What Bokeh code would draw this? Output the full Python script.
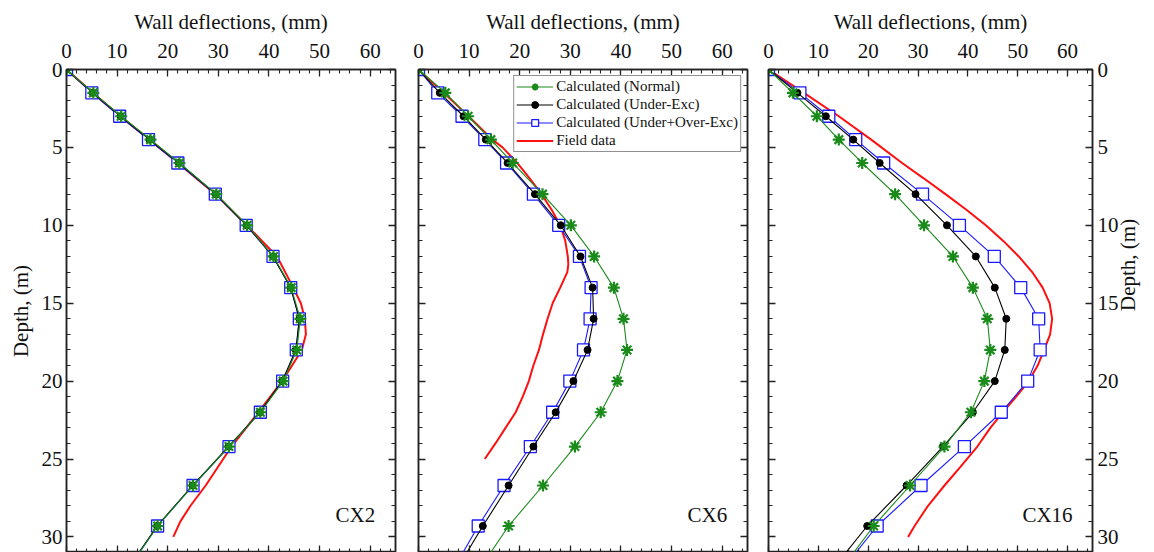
import math

from bokeh.plotting import figure
from bokeh.layouts import row
from bokeh.models import (Range1d, LinearAxis, FixedTicker, Label, Legend, LegendItem)
from bokeh.embed import file_html
from bokeh.resources import INLINE

# Depths (m) of the calculated profile nodes
depth = [0, 1.5, 3, 4.5, 6, 8, 10, 12, 14, 16, 18, 20, 22, 24.2, 26.7, 29.3, 31.9]

# CX2 wall deflections (mm)
cx2_normal = [0, 5.3, 10.8, 16.6, 22.3, 29.6, 35.7, 40.9, 44.4, 46.2, 45.5, 42.8, 38.3, 32.1, 25.0, 18.0, 12.5]
cx2_under = [0, 5.2, 10.7, 16.4, 22.2, 29.5, 35.6, 40.8, 44.3, 46.0, 45.3, 42.6, 38.2, 32.0, 24.9, 17.9, 12.4]
cx2_under_over = [0, 5.0, 10.5, 16.2, 22.0, 29.4, 35.5, 40.8, 44.3, 46.0, 45.4, 42.7, 38.3, 32.1, 25.0, 18.0, 12.5]
cx2_field_depth = [0, 1.5, 3, 4.5, 6, 8, 10, 12, 14, 15, 16, 17, 18, 20, 22, 24.2, 26.7, 28, 29, 30]
cx2_field = [0, 5.2, 10.6, 16.4, 22.0, 29.4, 35.6, 41.6, 44.8, 46.3, 47.1, 47.3, 46.5, 42.6, 37.9, 32.6, 27.5, 24.5, 22.5, 21.1]

# CX6 wall deflections (mm)
cx6_normal = [0, 5.3, 9.8, 14.3, 18.6, 24.5, 30.1, 34.7, 38.6, 40.5, 41.2, 39.3, 36.0, 30.9, 24.6, 17.8, 12.4]
cx6_under = [0, 4.2, 8.9, 13.3, 17.6, 23.0, 28.1, 32.0, 34.4, 34.6, 33.4, 30.6, 27.1, 22.7, 17.8, 12.7, 7.9]
cx6_under_over = [0, 3.8, 8.6, 13.1, 17.4, 22.7, 27.7, 31.8, 34.1, 33.9, 32.6, 29.9, 26.5, 22.1, 16.9, 11.8, 7.2]
cx6_field_depth = [0, 1.5, 3, 4.5, 5, 6, 7, 8, 9, 10, 11, 12, 12.5, 13, 14, 15, 16, 17, 18, 19, 20, 21, 22, 23, 24, 25]
cx6_field = [0, 5.0, 9.9, 14.6, 16.6, 19.5, 22.0, 24.3, 26.3, 28.0, 29.0, 29.5, 29.6, 29.4, 28.0, 26.5, 25.5, 24.6, 23.8, 22.7, 21.8, 20.6, 19.2, 17.2, 15.2, 13.1]

# CX16 wall deflections (mm)
cx16_normal = [0, 4.9, 9.7, 14.1, 18.8, 25.4, 31.2, 37.0, 41.0, 43.9, 44.5, 43.3, 40.6, 35.3, 28.4, 21.1, 15.0]
cx16_under = [0, 5.8, 11.5, 17.0, 22.3, 29.5, 35.8, 41.6, 45.4, 47.7, 47.4, 45.4, 41.0, 35.0, 27.7, 19.8, 13.3]
cx16_under_over = [0, 6.3, 12.1, 17.5, 23.1, 30.9, 38.3, 45.3, 50.6, 54.2, 54.5, 52.0, 46.7, 39.3, 30.6, 21.8, 15.3]
cx16_field_depth = [0, 1.5, 3, 4.5, 6, 7, 8, 9, 10, 11, 12, 13, 14, 15, 16, 17, 18, 19, 20, 21, 22, 23, 24.2, 25.5, 26.7, 28, 29.3, 30]
cx16_field = [0, 7.1, 14.1, 20.6, 26.8, 31.2, 35.5, 39.7, 43.6, 47.1, 50.2, 52.9, 55.0, 56.4, 56.9, 56.5, 55.3, 54.0, 52.2, 49.7, 47.0, 44.5, 41.9, 38.5, 35.3, 32.0, 29.3, 28.0]

x_major = [0, 10, 20, 30, 40, 50, 60]
x_minor = list(range(0, 65, 2))
y_major = [0, 5, 10, 15, 20, 25, 30]
y_minor = list(range(0, 32))

FONT = "Liberation Serif"
GREEN = "#1a8a1a"
BLUE = "#1a1aff"
RED = "#ff1010"
AXIS_COLOR = "#222222"


def style_axis(ax, ticks, minor, show_labels, standoff=6):
    ax.ticker = FixedTicker(ticks=ticks, minor_ticks=minor)
    ax.axis_line_color = AXIS_COLOR
    ax.axis_line_width = 1.5
    ax.major_tick_in = 7
    ax.major_tick_out = 0
    ax.minor_tick_in = 4
    ax.minor_tick_out = 0
    ax.major_tick_line_color = AXIS_COLOR
    ax.minor_tick_line_color = AXIS_COLOR
    ax.major_tick_line_width = 1.3
    ax.minor_tick_line_width = 1.1
    ax.major_label_text_font = FONT
    ax.axis_label_text_font = FONT
    ax.axis_label_text_font_style = "normal"
    ax.axis_label_text_font_size = "21px"
    ax.axis_label_text_color = "#111111"
    if show_labels:
        ax.major_label_text_font_size = "21px"
        ax.major_label_text_color = "#111111"
        ax.major_label_standoff = standoff
    else:
        # tick marks only: labels are not painted
        ax.major_label_text_font_size = "1px"
        ax.major_label_text_color = None
        ax.major_label_standoff = 0


def make_panel(width, bl, br, left_labels, right_labels, name,
               normal, under, under_over, fdepth, field):
    p = figure(width=width, height=552, output_backend="svg", toolbar_location=None,
               x_range=Range1d(0, 65), y_range=Range1d(31.0, 0),
               x_axis_location=None, y_axis_location=None,
               min_border_left=bl, min_border_right=br,
               min_border_top=69, min_border_bottom=0)
    p.background_fill_color = "white"
    p.border_fill_color = "white"
    p.outline_line_color = AXIS_COLOR
    p.outline_line_width = 1.5
    p.xgrid.visible = False
    p.ygrid.visible = False

    top = LinearAxis(axis_label="Wall deflections, (mm)", axis_label_standoff=7)
    style_axis(top, x_major, x_minor, True, standoff=12)
    p.add_layout(top, "above")

    bottom = LinearAxis()
    style_axis(bottom, x_major, x_minor, False)
    p.add_layout(bottom, "below")

    left = LinearAxis(axis_label="Depth, (m)" if left_labels else None, axis_label_standoff=6)
    style_axis(left, y_major, y_minor, left_labels, standoff=4)
    p.add_layout(left, "left")

    right = LinearAxis(axis_label="Depth, (m)" if right_labels else None, axis_label_standoff=6)
    style_axis(right, y_major, y_minor, right_labels, standoff=5)
    if right_labels and "axis_label_orientation" in LinearAxis.properties():
        # read the right-hand title upwards, like the left one
        right.axis_label_orientation = math.pi / 2
    p.add_layout(right, "right")

    rf = p.line(field, fdepth, line_color=RED, line_width=2)

    rb_l = p.line(under_over, depth, line_color=BLUE, line_width=1.1)
    rb_m = p.scatter(under_over, depth, marker="square", size=12, line_color=BLUE,
                     line_width=1.3, fill_color="white")

    rk_l = p.line(under, depth, line_color="black", line_width=1.1)
    rk_m = p.scatter(under, depth, marker="circle", size=7, line_color="black",
                     fill_color="black")

    rg_l = p.line(normal, depth, line_color=GREEN, line_width=1.1)
    rg_m = p.scatter(normal, depth, marker="asterisk", size=12, line_color=GREEN,
                     line_width=2.2)

    p.add_layout(Label(x=61, y=28.6, text=name, text_align="right", text_baseline="middle",
                       text_font=FONT, text_font_size="21px", text_color="#111111"))

    items = [
        LegendItem(label="Calculated (Normal)", renderers=[rg_l, rg_m]),
        LegendItem(label="Calculated (Under-Exc)", renderers=[rk_l, rk_m]),
        LegendItem(label="Calculated (Under+Over-Exc)", renderers=[rb_l, rb_m]),
        LegendItem(label="Field data", renderers=[rf]),
    ]
    return p, items


p1, _ = make_panel(406, 66, 11, True, False, "CX2",
                   cx2_normal, cx2_under, cx2_under_over, cx2_field_depth, cx2_field)
p2, items = make_panel(351, 12, 10, False, False, "CX6",
                       cx6_normal, cx6_under, cx6_under_over, cx6_field_depth, cx6_field)
p3, _ = make_panel(397, 11, 57, False, True, "CX16",
                   cx16_normal, cx16_under, cx16_under_over, cx16_field_depth, cx16_field)

legend = Legend(items=items, location="top_right", margin=6, padding=2, spacing=1,
                label_text_font=FONT, label_text_font_size="15px", label_text_color="#111111",
                label_height=17, glyph_height=17, glyph_width=37, label_standoff=3,
                border_line_color="#222222", border_line_width=1,
                background_fill_color="white", background_fill_alpha=1)
p2.add_layout(legend, "center")

layout = row(p1, p2, p3)
open("out.html", "w").write(file_html(layout, INLINE))
